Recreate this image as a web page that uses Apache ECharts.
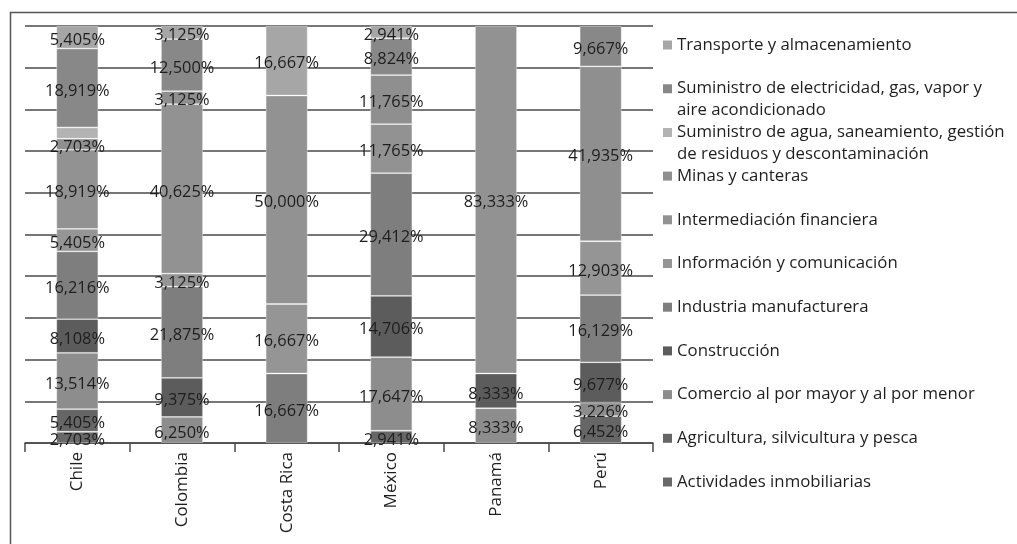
<!DOCTYPE html>
<html>
<head>
<meta charset="utf-8">
<script src="https://cdn.jsdelivr.net/npm/echarts@6/dist/echarts.min.js"></script>
<style>
html,body{margin:0;padding:0;background:#fff;}
#chart{width:1017px;height:544px;}
</style>
</head>
<body>
<div id="chart"></div>
<script>
// Categories (countries)
const categories = ['Chile', 'Colombia', 'Costa Rica', 'México', 'Panamá', 'Perú'];

// Series values (%), per country in the order above; null = no segment
const actividades    = [2.703, null, null, null, null, null];
const agricultura    = [5.405, null, null, 2.941, null, 6.452];
const comercio       = [13.514, 6.250, null, 17.647, 8.333, 3.226];
const construccion   = [8.108, 9.375, null, 14.706, 8.333, 9.677];
const industria      = [16.216, 21.875, 16.667, 29.412, null, 16.129];
const informacion    = [5.405, 3.125, 16.667, null, null, 12.903];
const intermediacion = [18.919, 40.625, 50.000, 11.765, 83.333, null];
const minas          = [2.703, 3.125, null, 11.765, null, 41.935];
const agua           = [2.703, null, null, null, null, null];
const electricidad   = [18.919, 12.500, null, 8.824, null, 9.667];
const transporte     = [5.405, 3.125, 16.667, 2.941, null, null];

// Series names (stack order bottom -> top)
const seriesNames = [
  'Actividades inmobiliarias',
  'Agricultura, silvicultura y pesca',
  'Comercio al por mayor y al por menor',
  'Construcción',
  'Industria manufacturera',
  'Información y comunicación',
  'Intermediación financiera',
  'Minas y canteras',
  'Suministro de agua, saneamiento, gestión de residuos y descontaminación',
  'Suministro de electricidad, gas, vapor y aire acondicionado',
  'Transporte y almacenamiento'
];
const seriesValues = [actividades, agricultura, comercio, construccion, industria,
  informacion, intermediacion, minas, agua, electricidad, transporte];

// Legend display text (line breaks as in the reference)
const legendText = {
  'Suministro de agua, saneamiento, gestión de residuos y descontaminación':
    'Suministro de agua, saneamiento, gestión\nde residuos y descontaminación',
  'Suministro de electricidad, gas, vapor y aire acondicionado':
    'Suministro de electricidad, gas, vapor y\naire acondicionado'
};

const colors = ['#686868', '#666666', '#8d8d8d', '#5c5c5c', '#7e7e7e', '#959595',
  '#929292', '#8f8f8f', '#b3b3b3', '#888888', '#a6a6a6'];
const hideLabelSeries = ['Suministro de agua, saneamiento, gestión de residuos y descontaminación'];

const FONT = 'Open Sans';
const TEXT = '#1e1e1e';
const fmt = v => v.toFixed(3).replace('.', ',') + '%';

const series = seriesNames.map((name, i) => ({
  name: name,
  type: 'bar',
  stack: 'total',
  barWidth: 42,
  data: seriesValues[i],
  itemStyle: {color: colors[i], borderColor: 'rgba(255,255,255,0.45)', borderWidth: 0.8},
  label: {
    show: hideLabelSeries.indexOf(name) < 0,
    position: 'inside',
    offset: [0, 3],
    color: TEXT,
    fontFamily: FONT,
    fontSize: 16.4,
    formatter: p => fmt(p.value)
  },
  emphasis: {disabled: true}
}));

// Icon for two-line legend items: square aligned with the first text line
const twoLineIcon = 'path://M0,0L0.01,0M0,6.5L9,6.5L9,15.5L0,15.5ZM0,44L0.01,44';

// One legend per item, listed top -> bottom
const legendOrder = seriesNames.slice().reverse();
const legends = legendOrder.map((name, i) => {
  const twoLine = !!legendText[name];
  const center = 45 + i * 43.7;
  return {
    data: [name],
    left: 663,
    top: center - 11,
    padding: 0,
    orient: 'vertical',
    itemWidth: 9,
    itemHeight: twoLine ? 44 : 9,
    itemGap: 5,
    icon: twoLine ? twoLineIcon : 'rect',
    selectedMode: false,
    itemStyle: {borderWidth: 0},
    formatter: n => legendText[n] || n,
    textStyle: {
      fontFamily: FONT,
      fontSize: 16.8,
      color: TEXT,
      lineHeight: 22
    }
  };
});

const chart = echarts.init(document.getElementById('chart'), null, {renderer: 'canvas'});
chart.setOption({
  animation: false,
  backgroundColor: '#fff',
  grid: {left: 25, right: 364, top: 26, bottom: 101, containLabel: false},
  legend: legends,
  xAxis: {
    type: 'category',
    data: categories,
    axisLine: {show: true, lineStyle: {color: '#4a4a4a', width: 1.5}},
    axisTick: {show: true, length: 9, lineStyle: {color: '#4a4a4a', width: 1.5}},
    axisLabel: {rotate: 90, fontFamily: FONT, fontSize: 17, color: TEXT, margin: 9}
  },
  yAxis: {
    type: 'value',
    min: 0,
    max: 100,
    interval: 10,
    axisLine: {show: false},
    axisTick: {show: false},
    axisLabel: {show: false},
    splitLine: {show: true, lineStyle: {color: '#4a4a4a', width: 1.5}}
  },
  graphic: [{
    type: 'rect',
    left: 8, top: 10,
    shape: {width: 1020, height: 545},
    style: {fill: 'none', stroke: '#555', lineWidth: 1.5},
    silent: true
  }],
  series: series
});
</script>
</body>
</html>
